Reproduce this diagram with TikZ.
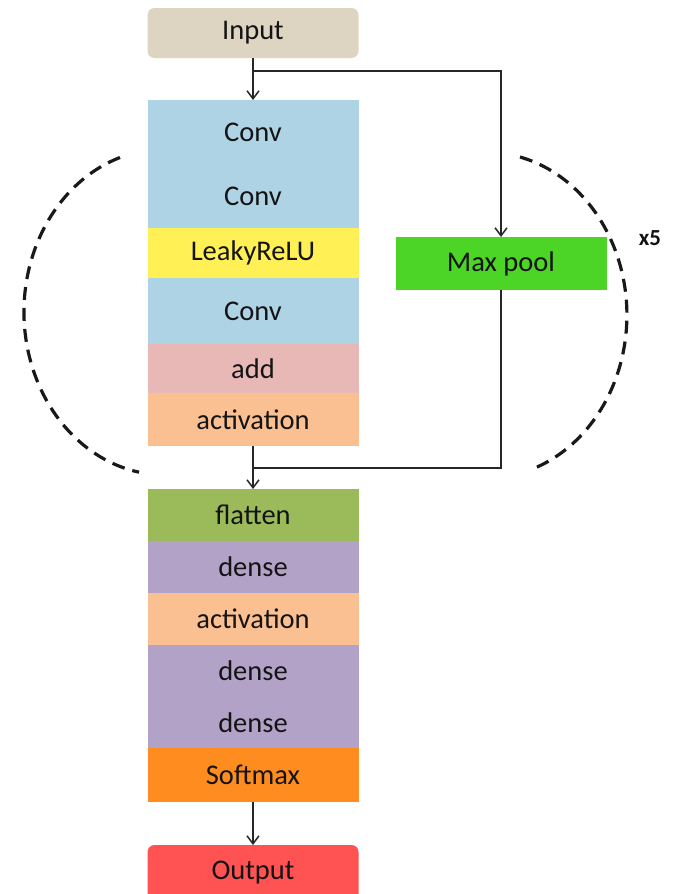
\documentclass[tikz,border=0pt]{standalone}
\usepackage{fontspec}
\setmainfont{Carlito}
\usetikzlibrary{arrows.meta}

\definecolor{inputc}{HTML}{DDD5C2}
\definecolor{convc}{HTML}{ADD3E4}
\definecolor{leakyc}{HTML}{FFF155}
\definecolor{addc}{HTML}{E8B8B7}
\definecolor{actc}{HTML}{FBC091}
\definecolor{poolc}{HTML}{4CD426}
\definecolor{flatc}{HTML}{9BBA59}
\definecolor{densec}{HTML}{B2A2C7}
\definecolor{softc}{HTML}{FF8C1F}
\definecolor{outc}{HTML}{FF5252}
\definecolor{txtc}{HTML}{141414}

\tikzset{
  layer/.style={anchor=north, minimum width=211pt, inner sep=0pt, outer sep=0pt,
    text=txtc, font=\fontsize{28.5}{32}\selectfont},
  endbox/.style={layer, rounded corners=7pt},
  arr/.style={draw=black!85, line width=1.5pt, -{Straight Barb[length=8pt,width=12pt,line width=1.5pt]}},
  link/.style={draw=black!85, line width=1.5pt},
  loop/.style={draw=black!90, line width=3.2pt, dash pattern=on 13pt off 8pt}
}

\begin{document}
\begin{tikzpicture}[x=1pt, y=-1pt]
\useasboundingbox (0,0) rectangle (680,894);

% main column
\node[endbox, fill=inputc, minimum height=50pt] (input) at (253,8) {Input};
\node[layer, fill=convc, minimum height=64pt] (conv1) at (253,100) {Conv};
\node[layer, fill=convc, minimum height=64pt] (conv2) at (253,164) {Conv};
\node[layer, fill=leakyc, minimum height=50pt] (leaky) at (253,228) {LeakyReLU};
\node[layer, fill=convc, minimum height=66pt] (conv3) at (253,278) {Conv};
\node[layer, fill=addc, minimum height=49pt] (add) at (253,344) {add};
\node[layer, fill=actc, minimum height=53pt] (act1) at (253,393) {activation};

\node[layer, fill=flatc, minimum height=52pt] (flatten) at (253,489) {flatten};
\node[layer, fill=densec, minimum height=52pt] (dense1) at (253,541) {dense};
\node[layer, fill=actc, minimum height=52pt] (act2) at (253,593) {activation};
\node[layer, fill=densec, minimum height=52pt] (dense2) at (253,645) {dense};
\node[layer, fill=densec, minimum height=51pt] (dense3) at (253,697) {dense};
\node[layer, fill=softc, minimum height=54pt] (softmax) at (253,748) {Softmax};
\node[endbox, fill=outc, minimum height=56pt] (output) at (253,845) {Output};

% pooling branch
\node[layer, fill=poolc, minimum height=53pt] (pool) at (501,237) {Max pool};

% connectors
\coordinate (split) at (253,71);
\coordinate (merge) at (253,468);
\draw[arr] (input.south) -- (conv1.north);
\draw[arr] (split) -| (pool.north);
\draw[link] (pool.south) |- (merge);
\draw[arr] (act1.south) -- (flatten.north);
\draw[arr] (softmax.south) -- (output.north);

% repeat loop
\draw[loop] (120,157.5) arc[start angle=251.4, end angle=100.6, x radius=141, y radius=163];
\draw[loop] (520,157) arc[start angle=-76, end angle=70, x radius=141, y radius=163];
\node[font=\fontsize{23}{26}\selectfont\bfseries, text=txtc] (rep) at (650,238) {x5};
\end{tikzpicture}
\end{document}
